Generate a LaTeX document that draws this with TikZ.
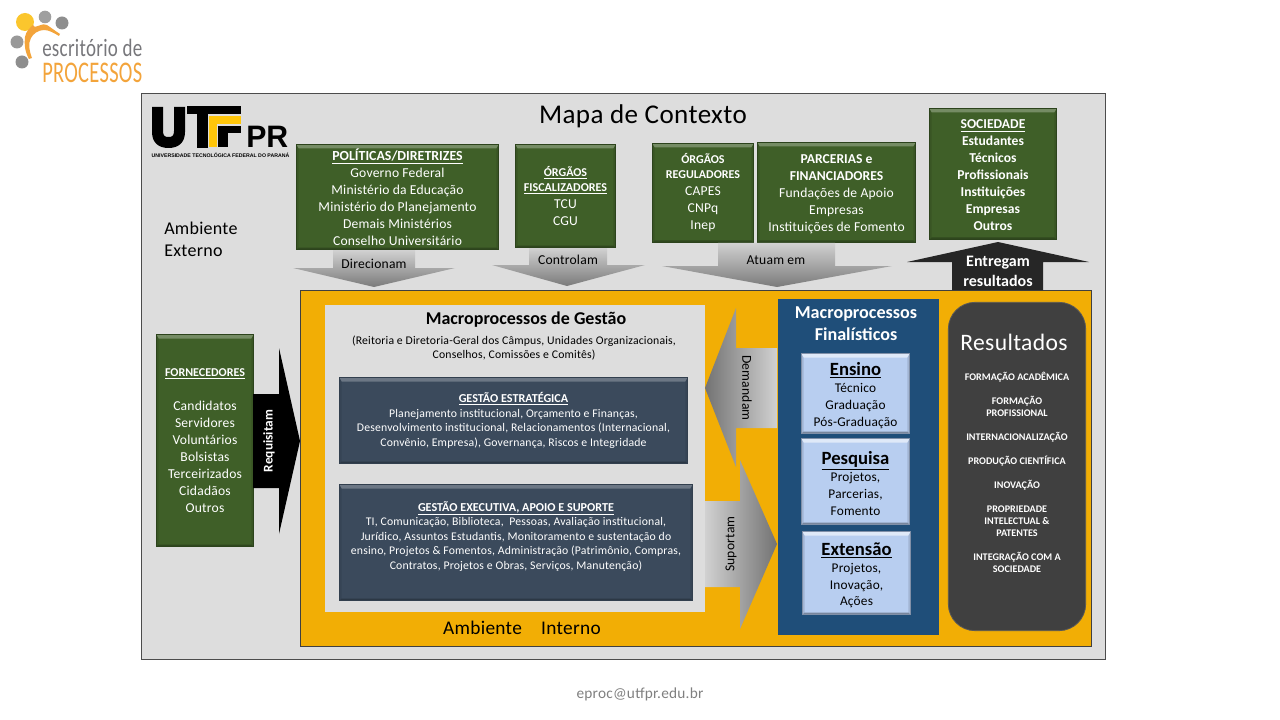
\documentclass[tikz,border=0pt]{standalone}
\usepackage{fontspec}
\usepackage{graphicx}
\setmainfont{Carlito}[LetterSpace=1.5,BoldFeatures={LetterSpace=0}]
\newfontfamily\arialf{Liberation Sans}
\definecolor{pagegray}{HTML}{DDDDDD}
\definecolor{orangepanel}{HTML}{F2AE05}
\definecolor{boxgreen}{HTML}{3F5F28}
\definecolor{boxslate}{HTML}{3B4A5C}
\definecolor{bluepanel}{HTML}{1F4E79}
\definecolor{boxblue}{HTML}{B8CEF0}
\definecolor{resgray}{HTML}{404040}
\definecolor{logoorange}{HTML}{F3A43B}
\definecolor{logoyellow}{HTML}{FBC62D}
\definecolor{logogray}{HTML}{8E8E8E}
\definecolor{logotext}{HTML}{77777B}
\definecolor{utfyellow}{HTML}{FFC60B}
\newcommand\fs[2]{\fontsize{#1}{#2}\selectfont}
\newcommand\bx[7][]{%
  \pgfmathsetmacro\bw{(#5-#3-1)*0.75}\pgfmathsetmacro\bh{(#6-#4-1)*0.75}%
  \node[#1,minimum width=\bw pt,minimum height=\bh pt] (#2) at ({(#3+#5)/2},{(#4+#6)/2}) {#7};}
\tikzset{
  x=0.75pt,y=-0.75pt,
  panelbox/.style={rectangle,inner sep=0pt,outer sep=0pt,align=center},
  bevel/.style n args={3}{path picture={
    \def\pb{path picture bounding box}
    \fill[#2] (\pb.north west) -- ([shift={(2.2,4)}]\pb.north west) -- ([shift={(2.2,-2)}]\pb.south west) -- (\pb.south west) -- cycle;
    \fill[#2] (\pb.north east) -- ([shift={(-2.2,4)}]\pb.north east) -- ([shift={(-2.2,-2)}]\pb.south east) -- (\pb.south east) -- cycle;
    \fill[#1] (\pb.north west) -- (\pb.north east) -- ([shift={(-2.2,4)}]\pb.north east) -- ([shift={(2.2,4)}]\pb.north west) -- cycle;
    \fill[#3] (\pb.south west) -- (\pb.south east) -- ([shift={(-2.2,-2)}]\pb.south east) -- ([shift={(2.2,-2)}]\pb.south west) -- cycle;
  }},
  greenbox/.style={panelbox,fill=boxgreen,draw=boxgreen!70!black,line width=.8pt,text=white,
    font=\fs{10.2}{12.75},bevel={boxgreen!72!white}{boxgreen!90!black}{boxgreen!75!black}},
  slatebox/.style={panelbox,fill=boxslate,draw=boxslate!85!black,line width=.7pt,text=white,
    font=\fs{8.8}{10.9},bevel={boxslate!75!white}{boxslate!92!black}{boxslate!75!black}},
  bluebox/.style={panelbox,fill=boxblue,draw=boxblue!70!black,line width=.6pt,text=black,
    font=\fs{10}{12.7},bevel={boxblue!45!white}{boxblue!88!black}{boxblue!65!black}},
  grayarrow/.style={draw=none},
  arrowlabel/.style={inner sep=0pt,font=\fs{10.2}{12}},
  plainlabel/.style={inner sep=0pt,align=center},
}
\begin{document}
\begin{tikzpicture}
\path[use as bounding box,fill=white] (0,0) rectangle (1280,720);

% logo: escritorio de processos
\fill[logoyellow] (25,22) circle (9);
\fill[logogray!85] (45,17) circle (6.3);
\fill[logogray] (62,23) circle (6.5);
\fill[logogray!90] (17,42) circle (6.5);
\fill[logogray] (22,62) circle (6.5);
\fill[logoorange] (60,34) .. controls (54,30) and (50,27) .. (47,25) .. controls (45,24) and (43,24) .. (38,26)
  .. controls (35,27) and (33,27) .. (33,25) .. controls (30,28) and (26,31) .. (25,37)
  .. controls (24,44) and (25,52) .. (29,59) -- (32,58) .. controls (29,50) and (28,44) .. (31,38)
  .. controls (33,34) and (38,30) .. (44,30) .. controls (49,30) and (54,33) .. (59,36) -- cycle;
\node[inner sep=0pt,anchor=base west,text=logotext] (logoA) at (42,56.5)
  {\resizebox{75pt}{13pt}{\fs{16}{18}escritório de}};
\node[inner sep=0pt,anchor=base west,text=logoorange] (logoB) at (42,82.5)
  {\resizebox{75pt}{14.6pt}{\fs{20}{22}PROCESSOS}};

% outer frame
\bx[panelbox,fill=pagegray,draw=black!70,line width=.6pt]{outer}{141}{93}{1106}{660}{}

% UTFPR logo
\fill[black] (152,107) -- (163,107) -- (163,131) .. controls (163,136) and (165,137) .. (168.5,137)
  .. controls (172,137) and (174,136) .. (174,131) -- (174,107) -- (185,107) -- (185,132)
  .. controls (185,143) and (178,148) .. (168.5,148) .. controls (159,148) and (152,143) .. (152,132) -- cycle;
\fill[black] (187,106.5) rectangle (241,114);
\fill[black] (197,106.5) rectangle (208,148);
\fill[utfyellow] (208.5,116) rectangle (241,124);
\fill[utfyellow] (208.5,116) rectangle (216.5,147.5);
\fill[black] (218,126) rectangle (228,147.5);
\fill[black] (218,126) rectangle (241,133);
\node[inner sep=0pt,anchor=base west] (utfPR) at (246,147.5)
  {\arialf\bfseries\resizebox{31.5pt}{16pt}{\fs{24}{26}PR}};
\node[inner sep=0pt] (utfTag) at (220.5,155.5) {\arialf\bfseries\fs{3.9}{4}UNIVERSIDADE TECNOLÓGICA FEDERAL DO PARANÁ};

% title
\node[plainlabel,font=\fs{20.3}{24}] (title) at (643,116) {Mapa de Contexto};
\node[plainlabel,align=left,anchor=west,font=\fs{13.5}{16.5}] (ambExt) at (164,239) {Ambiente\\Externo};

% interior
\bx[panelbox,fill=orangepanel,draw=black!75,line width=.6pt]{internal}{300}{290}{1092}{647}{}
\bx[panelbox,fill=pagegray]{gestao}{324}{304}{705}{612}{}
\node[plainlabel,font=\fs{14.5}{17}] (ambInt) at (522,628) {Ambiente\hspace{1em}Interno};

% green boxes
\bx[greenbox]{politicas}{296}{144}{499}{250}{{\fs{10.4}{12.75}\bfseries\underline{POLÍTICAS/DIRETRIZES}}\\Governo Federal\\Ministério da Educação\\Ministério do Planejamento\\Demais Ministérios\\Conselho Universitário}
\bx[greenbox]{fiscal}{515}{144}{616}{248}{{\fs{9}{11}\bfseries\underline{ÓRGÃOS}}\\[-1.5pt]{\fs{9}{11}\bfseries\underline{FISCALIZADORES}}\\TCU\\CGU}
\bx[greenbox]{regul}{652}{143}{754}{243}{{\fs{9}{11}\bfseries ÓRGÃOS}\\[-1.5pt]{\fs{9}{11}\bfseries REGULADORES}\\CAPES\\CNPq\\Inep}
\bx[greenbox]{parcerias}{757}{142}{916}{243}{\rule{0pt}{9pt}\textbf{PARCERIAS e}\\\textbf{FINANCIADORES}\\Fundações de Apoio\\Empresas\\Instituições de Fomento}
\bx[greenbox,font=\fs{10.2}{12.75}\bfseries]{sociedade}{929}{108}{1057}{240}{\rule{0pt}{9pt}\underline{SOCIEDADE}\\Estudantes\\Técnicos\\Profissionais\\Instituições\\Empresas\\Outros}
\bx[greenbox]{fornec}{156}{334}{254}{547}{{\fs{9}{12.75}\bfseries\underline{FORNECEDORES}}\\[12.75pt]Candidatos\\Servidores\\Voluntários\\Bolsistas\\Terceirizados\\Cidadãos\\Outros}

% arrows to the interior
\path[grayarrow,top color=black!18,bottom color=black!52]
  (333,250) -- (415,250) -- (415,268) -- (455,268) -- (374,287) -- (293,268) -- (333,268) -- cycle;
\node[arrowlabel] (lblDir) at (374,264) {Direcionam};
\path[grayarrow,top color=black!18,bottom color=black!52]
  (529,248) -- (607,248) -- (607,265) -- (645,265) -- (567,286) -- (492,265) -- (529,265) -- cycle;
\node[arrowlabel] (lblCtl) at (568,260) {Controlam};
\path[grayarrow,top color=black!18,bottom color=black!52]
  (718,243) -- (835,243) -- (835,266) -- (892,266) -- (777,287) -- (662,266) -- (718,266) -- cycle;
\node[arrowlabel] (lblAtu) at (776,260) {Atuam em};
\fill[black!85] (998,242) -- (1089,262) -- (1043,262) -- (1043,290) -- (952,290) -- (952,262) -- (907,262) -- cycle;
\node[plainlabel,text=white,font=\fs{12}{15}\bfseries] (lblEnt) at (998,271) {Entregam\\resultados};

\fill[black] (253,394) -- (279,394) -- (279,348) -- (300,441) -- (279,534) -- (279,488) -- (253,488) -- cycle;
\node[plainlabel,rotate=90,text=white,font=\fs{10}{12}\bfseries] (lblReq) at (269,441) {Requisitam};

% gestao panel text
\node[plainlabel,font=\fs{13.5}{17}\bfseries] (gestTitle) at (526,320) {Macroprocessos de Gestão};
\node[plainlabel,font=\fs{8.8}{10.7}] (gestSub) at (514,348) {(Reitoria e Diretoria-Geral dos Câmpus, Unidades Organizacionais,\\Conselhos, Comissões e Comitês)};
\bx[slatebox]{estrat}{339}{377}{688}{464}{{\fs{9.1}{10.9}\bfseries\underline{GESTÃO ESTRATÉGICA}}\\Planejamento institucional, Orçamento e Finanças,\\Desenvolvimento institucional, Relacionamentos (Internacional,\\Convênio, Empresa), Governança, Riscos e Integridade}
\bx[slatebox]{exec}{339}{484}{693}{601}{{\fs{9.1}{10.9}\bfseries\underline{GESTÃO EXECUTIVA, APOIO E SUPORTE}}\\TI, Comunicação, Biblioteca,\ \ Pessoas, Avaliação institucional,\\Jurídico, Assuntos Estudantis, Monitoramento e sustentação do\\ensino, Projetos \& Fomentos, Administração (Patrimônio, Compras,\\Contratos, Projetos e Obras, Serviços, Manutenção)\\\mbox{}}

% blue panel
\bx[panelbox,fill=bluepanel]{finalist}{777}{298}{939}{635}{}
\node[plainlabel,text=white,font=\fs{13.6}{16.5}\bfseries] (finTitle) at (856,324) {Macroprocessos\\Finalísticos};
\bx[bluebox]{ensino}{801}{353}{910}{434}{\rule{0pt}{13pt}{\fs{14}{15}\bfseries\underline{Ensino}}\\Técnico\\Graduação\\Pós-Graduação}
\bx[bluebox]{pesquisa}{801}{438}{910}{525}{\rule{0pt}{13pt}{\fs{14}{15}\bfseries\underline{Pesquisa}}\\Projetos,\\Parcerias,\\Fomento}
\bx[bluebox]{extensao}{802}{531}{911}{615}{\rule{0pt}{13pt}{\fs{14}{15}\bfseries\underline{Extensão}}\\Projetos,\\Inovação,\\Ações}

% demandam / suportam
\path[grayarrow,left color=black!55,right color=black!18]
  (777,348) -- (736,348) -- (736,308) -- (705,388) -- (736,467) -- (736,428) -- (777,428) -- cycle;
\node[arrowlabel,rotate=-90] (lblDem) at (747,388) {Demandam};
\path[grayarrow,left color=black!18,right color=black!55]
  (705,501) -- (740,501) -- (740,460) -- (777,544) -- (740,629) -- (740,587) -- (705,587) -- cycle;
\node[arrowlabel,rotate=90] (lblSup) at (731,544) {Suportam};

% resultados
\node[panelbox,rounded corners=20,fill=resgray,draw=black!65,line width=.6pt,minimum width=103pt,minimum height=246.25pt] (result) at (1017,466.5) {};
\node[plainlabel,text=white,font=\fs{17.7}{22}] (resTitle) at (1014,342) {Resultados};
\node[plainlabel,text=white,font=\fs{7.6}{9}\bfseries] (resList) at (1017,472) {FORMAÇÃO ACADÊMICA\\[9pt]FORMAÇÃO\\PROFISSIONAL\\[9pt]INTERNACIONALIZAÇÃO\\[9pt]PRODUÇÃO CIENTÍFICA\\[9pt]INOVAÇÃO\\[9pt]PROPRIEDADE\\INTELECTUAL \&\\PATENTES\\[9pt]INTEGRAÇÃO COM A\\SOCIEDADE};

% footer
\node[plainlabel,text=black!50,font=\fs{11.5}{13}] (email) at (640,694) {eproc@utfpr.edu.br};
\end{tikzpicture}
\end{document}
